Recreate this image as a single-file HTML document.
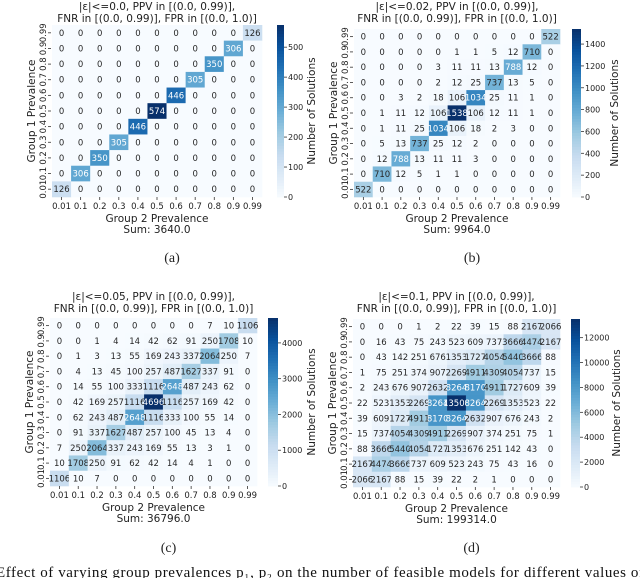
<!DOCTYPE html>
<html><head><meta charset="utf-8"><style>
body{margin:0;background:#fff;}
svg{display:block;font-family:"DejaVu Sans","Liberation Sans",sans-serif;}
</style></head><body>
<svg id="fig" width="640" height="578" viewBox="0 0 640 578"></svg>
<script>
const categories = ["0.01","0.1","0.2","0.3","0.4","0.5","0.6","0.7","0.8","0.9","0.99"];
const valuesA = [
[0,0,0,0,0,0,0,0,0,0,126],[0,0,0,0,0,0,0,0,0,306,0],[0,0,0,0,0,0,0,0,350,0,0],[0,0,0,0,0,0,0,305,0,0,0],
[0,0,0,0,0,0,446,0,0,0,0],[0,0,0,0,0,574,0,0,0,0,0],[0,0,0,0,446,0,0,0,0,0,0],[0,0,0,305,0,0,0,0,0,0,0],
[0,0,350,0,0,0,0,0,0,0,0],[0,306,0,0,0,0,0,0,0,0,0],[126,0,0,0,0,0,0,0,0,0,0]];
const valuesB = [
[0,0,0,0,0,0,0,0,0,0,522],[0,0,0,0,0,1,1,5,12,710,0],[0,0,0,0,3,11,11,13,788,12,0],[0,0,0,0,2,12,25,737,13,5,0],
[0,0,3,2,18,106,1034,25,11,1,0],[0,1,11,12,106,1538,106,12,11,1,0],[0,1,11,25,1034,106,18,2,3,0,0],
[0,5,13,737,25,12,2,0,0,0,0],[0,12,788,13,11,11,3,0,0,0,0],[0,710,12,5,1,1,0,0,0,0,0],[522,0,0,0,0,0,0,0,0,0,0]];
const valuesC = [
[0,0,0,0,0,0,0,0,7,10,1106],[0,0,1,4,14,42,62,91,250,1708,10],[0,1,3,13,55,169,243,337,2064,250,7],
[0,4,13,45,100,257,487,1627,337,91,0],[0,14,55,100,333,1116,2648,487,243,62,0],[0,42,169,257,1116,4696,1116,257,169,42,0],
[0,62,243,487,2648,1116,333,100,55,14,0],[0,91,337,1627,487,257,100,45,13,4,0],[7,250,2064,337,243,169,55,13,3,1,0],
[10,1708,250,91,62,42,14,4,1,0,0],[1106,10,7,0,0,0,0,0,0,0,0]];
const valuesD = [
[0,0,0,1,2,22,39,15,88,2167,2066],[0,16,43,75,243,523,609,737,3666,4474,2167],[0,43,142,251,676,1353,1727,4054,5440,3666,88],
[1,75,251,374,907,2269,4911,4309,4054,737,15],[2,243,676,907,2632,8264,8170,4911,1727,609,39],
[22,523,1353,2269,8264,13500,8264,2269,1353,523,22],[39,609,1727,4911,8170,8264,2632,907,676,243,2],
[15,737,4054,4309,4911,2269,907,374,251,75,1],[88,3666,5440,4054,1727,1353,676,251,142,43,0],
[2167,4474,3666,737,609,523,243,75,43,16,0],[2066,2167,88,15,39,22,2,1,0,0,0]];
const ticksA = [0,100,200,300,400,500];
const ticksB = [0,200,400,600,800,1000,1200,1400];
const ticksC = [0,1000,2000,3000,4000];
const ticksD = [0,2000,4000,6000,8000,10000,12000];
const epsLabels = ["0.0","0.02","0.05","0.1"];
const sums = ["3640.0","9964.0","36796.0","199314.0"];
const letters = ["(a)","(b)","(c)","(d)"];

const NS="http://www.w3.org/2000/svg";
const svg=document.getElementById('fig');
function el(tag,attrs,parent,text){const e=document.createElementNS(NS,tag);for(const k in attrs)e.setAttribute(k,attrs[k]);if(text!==undefined)e.textContent=text;(parent||svg).appendChild(e);return e;}
const stops=[[247,251,255],[222,235,247],[198,219,239],[158,202,225],[107,174,214],[66,146,198],[33,113,181],[8,81,156],[8,48,107]];
function blues(t){t=Math.max(0,Math.min(1,t));const p=t*(stops.length-1);const i=Math.min(Math.floor(p),stops.length-2);const f=p-i;
 const c=stops[i].map((v,k)=>Math.round(v+(stops[i+1][k]-v)*f));return `rgb(${c[0]},${c[1]},${c[2]})`;}

const panels=[
 {x0:52,x1:262,y0:25,y1:197,cx0:277,cx1:284,data:valuesA,ticks:ticksA,ty:10,lx:315},
 {x0:354,x1:560,y0:29,y1:197,cx0:572,cx1:581,data:valuesB,ticks:ticksB,ty:10,lx:618},
 {x0:50,x1:257,y0:318,y1:486,cx0:268,cx1:278,data:valuesC,ticks:ticksC,ty:300,lx:315},
 {x0:353,x1:560,y0:319,y1:487,cx0:571,cx1:580,data:valuesD,ticks:ticksD,ty:300,lx:620}];

panels.forEach((P,pi)=>{
 const g=el('g',{});
 
 
 const n=categories.length;
 const vmax=Math.max(...P.data.flat());
 const cw=(P.x1-P.x0)/n, ch=(P.y1-P.y0)/n;
 const xs=i=>P.x0+i*cw, ys=j=>P.y0+j*ch;
 const cx=(P.x0+P.x1)/2;
 const t1=el('text',{x:cx,y:P.ty,'text-anchor':'middle','font-size':10.5,fill:'#222'},g,`|ε|<=${epsLabels[pi]}, PPV in [(0.0, 0.99)],`);
 
 el('text',{x:cx,y:P.ty+12,'text-anchor':'middle','font-size':10.5,fill:'#222'},g,'FNR in [(0.0, 0.99)], FPR in [(0.0, 1.0)]');
 P.data.forEach((row,j)=>row.forEach((v,i)=>{
  const r=el('rect',{x:xs(i),y:ys(j),width:cw+0.3,height:ch+0.3,fill:blues(v/vmax)},g);
  
  
  const tx=el('text',{x:xs(i)+cw/2,y:ys(j)+ch/2+3,'text-anchor':'middle','font-size':8.5,fill:(v/vmax>0.5?'#fff':'#262626')},g,String(v));
  
  
 }));
 categories.forEach((c,i)=>{
  el('line',{x1:xs(i)+cw/2,x2:xs(i)+cw/2,y1:P.y1,y2:P.y1+3,stroke:'#333','stroke-width':0.8},g);
  const l=el('text',{x:xs(i)+cw/2,y:P.y1+12,'text-anchor':'middle','font-size':8.5,fill:'#222'},g,c);
  
 });
 categories.forEach((c,k)=>{
  const j=n-1-k, yc=ys(j)+ch/2;
  el('line',{x1:P.x0-4,x2:P.x0-1,y1:yc,y2:yc,stroke:'#333','stroke-width':0.8},g);
  const l=el('text',{x:0,y:0,transform:`translate(${P.x0-6},${yc}) rotate(-90)`,'text-anchor':'middle','font-size':8.5,fill:'#222'},g,c);
  
 });
 const xl=el('text',{x:cx,y:P.y1+25,'text-anchor':'middle','font-size':10.5,fill:'#222'},g,'Group 2 Prevalence');
 
 el('text',{x:cx,y:P.y1+36,'text-anchor':'middle','font-size':10.5,fill:'#222'},g,'Sum: '+sums[pi]);
 const yl=el('text',{x:0,y:0,transform:`translate(${P.x0-17},${(P.y0+P.y1)/2}) rotate(-90)`,'text-anchor':'middle','font-size':10.5,fill:'#222'},g,'Group 1 Prevalence');
 
 const steps=60, hh=(P.y1-P.y0)/steps;
 for(let s=0;s<steps;s++){
  const r=el('rect',{x:P.cx0,y:P.y1-(s+1)*hh,width:P.cx1-P.cx0,height:hh+0.4,fill:blues((s+0.5)/steps)},g);
  
 }
 P.ticks.forEach(t=>{
  const y=P.y1-(t/vmax)*(P.y1-P.y0);
  el('line',{x1:P.cx1,x2:P.cx1+3,y1:y,y2:y,stroke:'#333','stroke-width':0.8},g);
  const l=el('text',{x:P.cx1+4,y:y+3,'font-size':8,fill:'#222'},g,String(t));
  
 });
 const cl=el('text',{x:0,y:0,transform:`translate(${P.lx},${(P.y0+P.y1)/2}) rotate(-90)`,'text-anchor':'middle','font-size':10.5,fill:'#222'},g,'Number of Solutions');
 
 const lt=el('text',{x:cx+15,y:P.ty+252,'text-anchor':'middle','font-size':14,'font-family':'Liberation Serif, serif',fill:'#222'},g,letters[pi]);
 
});
const cap=el('text',{x:-4,y:577,'font-size':15,'font-family':'Liberation Serif, serif',fill:'#111',textLength:648,lengthAdjust:'spacing'},svg,'Effect of varying group prevalences p\u2081, p\u2082 on the number of feasible models for different values of');


</script>
</body></html>
